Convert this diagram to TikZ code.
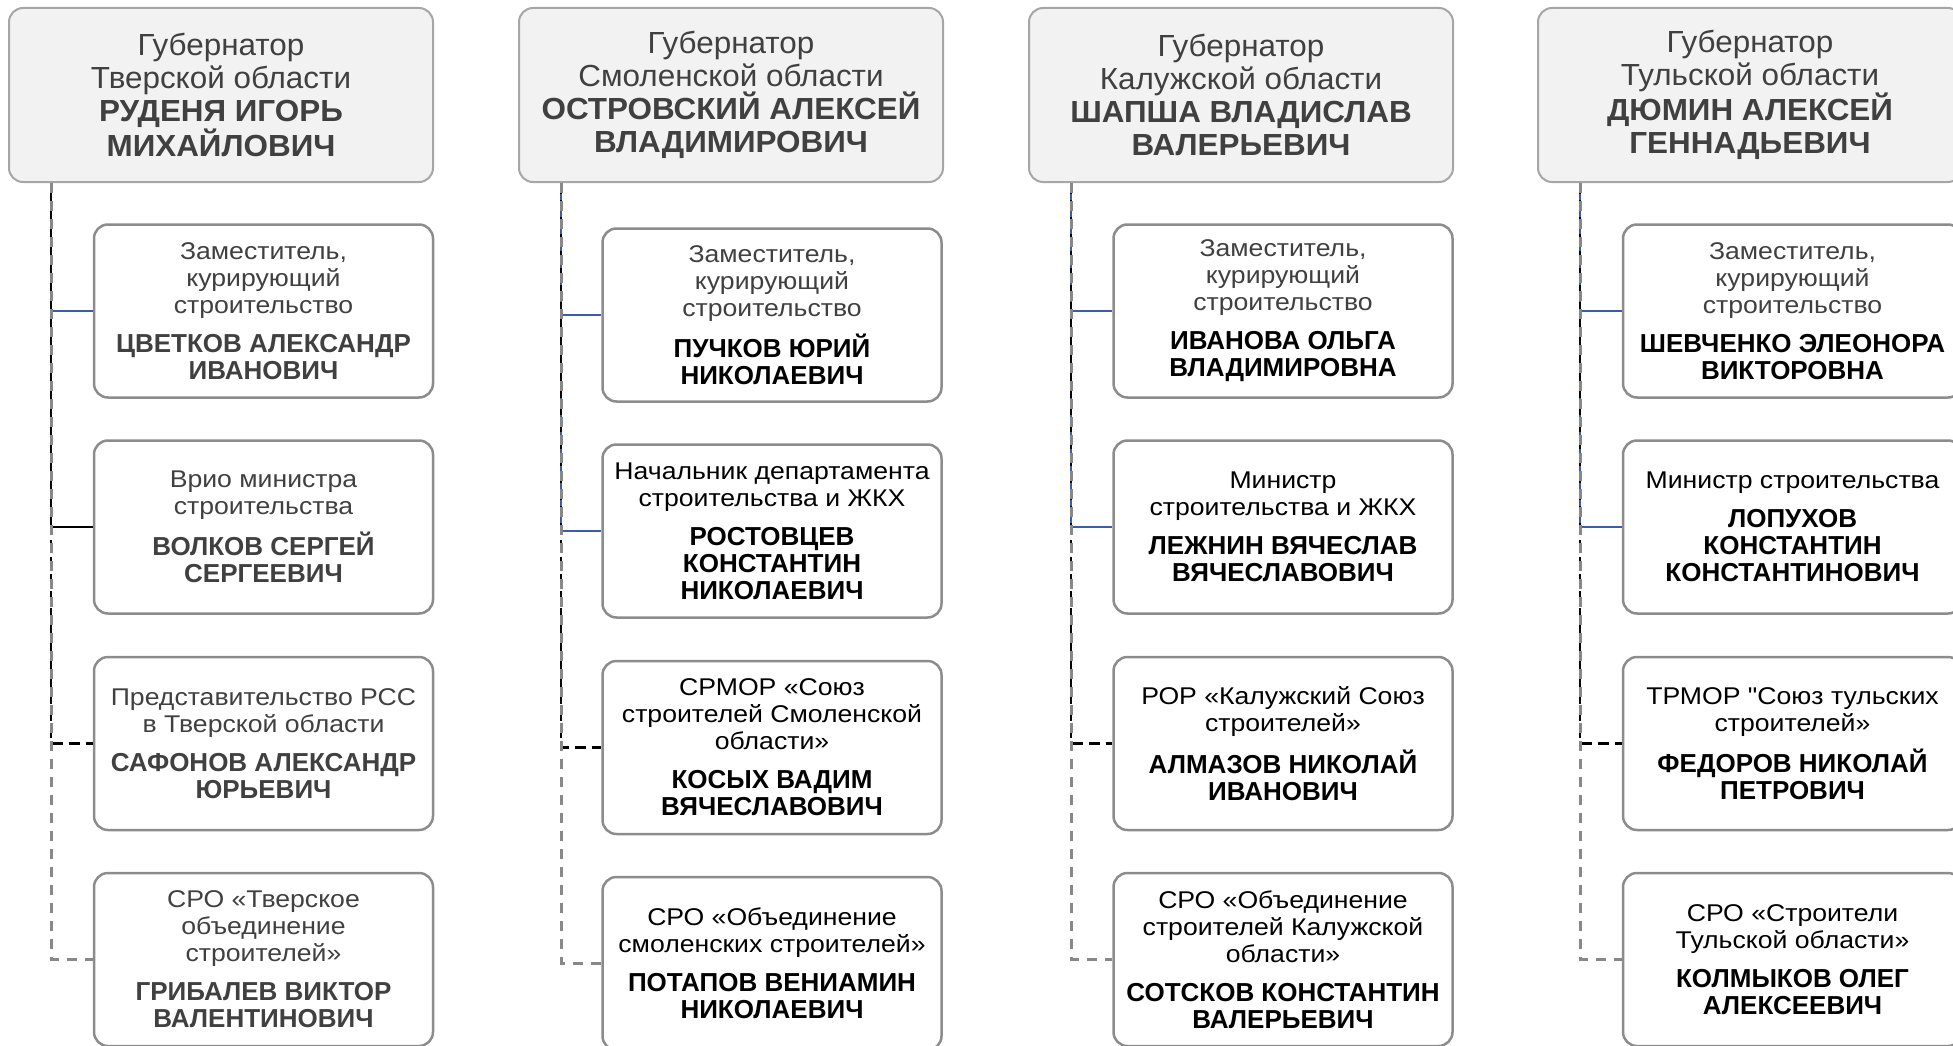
\documentclass[tikz,border=0pt]{standalone}
\usepackage{fontspec}
\setmainfont{Liberation Sans}
\newfontfamily\descfont{Liberation Sans}[FakeStretch=1.1]
\newfontfamily\govfont{Liberation Sans}[FakeStretch=1.03]
\definecolor{dgray}{HTML}{404040}
\definecolor{boxborder}{HTML}{8C8C8C}
\definecolor{govborder}{HTML}{A6A6A6}
\definecolor{govfill}{HTML}{F2F2F2}
\definecolor{lblue}{HTML}{3B5CA6}
\definecolor{lgray}{HTML}{888888}
\newcommand{\nm}[1]{{\rmfamily\fontsize{26}{27}\selectfont\bfseries #1}}
\newcommand{\gnm}[1]{{\bfseries #1}}
\newcommand{\dg}[1]{{\color{dgray}#1}}
\tikzset{
  gov/.style={draw=govborder, fill=govfill, line width=2pt, rounded corners=14pt,
    minimum width=424pt, minimum height=174pt, align=center, text=dgray,
    font=\govfont\fontsize{30.5}{33}\selectfont, inner sep=0pt},
  person/.style={draw=boxborder, fill=white, line width=2.5pt, rounded corners=14pt,
    minimum width=339pt, minimum height=173pt, align=center,
    font=\descfont\fontsize{24.2}{27}\selectfont, inner sep=0pt},
  grayperson/.style={person, text=dgray},
  blackperson/.style={person, text=black},
  lnblue/.style={draw=lblue, line width=2.5pt},
  lnblack/.style={draw=black, line width=2.5pt},
  lndash/.style={draw=black, line width=2.5pt, dash pattern=on 11pt off 6pt},
  lngray/.style={draw=lgray, line width=3pt, dash pattern=on 10pt off 8pt}
}
\begin{document}
\begin{tikzpicture}[x=1pt,y=-1pt]
\clip[use as bounding box] (0,0) rectangle (1953,1046);

% ---------- Column 1: Tver ----------
\node[gov] (g1) at (221,95) {Губернатор\\Тверской области\\\gnm{РУДЕНЯ ИГОРЬ}\\\gnm{МИХАЙЛОВИЧ}};
\coordinate (t1) at ([xshift=43pt]g1.south west);
\node[grayperson] (c11) at (263.5,311) {Заместитель,\\курирующий\\строительство\\[12pt]\nm{ЦВЕТКОВ АЛЕКСАНДР}\\\nm{ИВАНОВИЧ}};
\node[grayperson] (c12) at (263.5,527) {Врио министра\\строительства\\[12pt]\nm{ВОЛКОВ СЕРГЕЙ}\\\nm{СЕРГЕЕВИЧ}};
\node[grayperson] (c13) at (263.5,743.5) {Представительство РСС\\в Тверской области\\[12pt]\nm{САФОНОВ АЛЕКСАНДР}\\\nm{ЮРЬЕВИЧ}};
\node[grayperson] (c14) at (263.5,959.5) {СРО «Тверское\\объединение\\строителей»\\[12pt]\nm{ГРИБАЛЕВ ВИКТОР}\\\nm{ВАЛЕНТИНОВИЧ}};
\draw[lnblue] (t1) |- (c11.west);
\draw[lnblack] (t1) |- (c12.west);
\draw[lndash] (t1) |- (c13.west);
\draw[lngray] (t1) |- (c14.west);

% ---------- Column 2: Smolensk ----------
\node[gov] (g2) at (731,95) {Губернатор\\Смоленской области\\\gnm{ОСТРОВСКИЙ АЛЕКСЕЙ}\\\gnm{ВЛАДИМИРОВИЧ}};
\coordinate (t2) at ([xshift=43pt]g2.south west);
\node[blackperson] (c21) at (772,315) {\dg{Заместитель,}\\\dg{курирующий}\\\dg{строительство}\\[12pt]\nm{ПУЧКОВ ЮРИЙ}\\\nm{НИКОЛАЕВИЧ}};
\node[blackperson] (c22) at (772,531) {Начальник департамента\\строительства и ЖКХ\\[12pt]\nm{РОСТОВЦЕВ}\\\nm{КОНСТАНТИН}\\\nm{НИКОЛАЕВИЧ}};
\node[blackperson] (c23) at (772,747.5) {СРМОР «Союз\\строителей Смоленской\\области»\\[12pt]\nm{КОСЫХ ВАДИМ}\\\nm{ВЯЧЕСЛАВОВИЧ}};
\node[blackperson] (c24) at (772,963.5) {СРО «Объединение\\смоленских строителей»\\[12pt]\nm{ПОТАПОВ ВЕНИАМИН}\\\nm{НИКОЛАЕВИЧ}};
\draw[lnblue] (t2) |- (c21.west);
\draw[lnblue] (t2) |- (c22.west);
\draw[lndash] (t2) |- (c23.west);
\draw[lngray] (t2) |- (c24.west);

% ---------- Column 3: Kaluga ----------
\node[gov] (g3) at (1241,95) {Губернатор\\Калужской области\\\gnm{ШАПША ВЛАДИСЛАВ}\\\gnm{ВАЛЕРЬЕВИЧ}};
\coordinate (t3) at ([xshift=43pt]g3.south west);
\node[blackperson] (c31) at (1283,311) {\dg{Заместитель,}\\\dg{курирующий}\\\dg{строительство}\\[12pt]\nm{ИВАНОВА ОЛЬГА}\\\nm{ВЛАДИМИРОВНА}};
\node[blackperson] (c32) at (1283,527) {Министр\\строительства и ЖКХ\\[12pt]\nm{ЛЕЖНИН ВЯЧЕСЛАВ}\\\nm{ВЯЧЕСЛАВОВИЧ}};
\node[blackperson] (c33) at (1283,743.5) {РОР «Калужский Союз\\строителей»\\[12pt]\nm{АЛМАЗОВ НИКОЛАЙ}\\\nm{ИВАНОВИЧ}};
\node[blackperson] (c34) at (1283,959.5) {СРО «Объединение\\строителей Калужской\\области»\\[12pt]\nm{СОТСКОВ КОНСТАНТИН}\\\nm{ВАЛЕРЬЕВИЧ}};
\draw[lnblue] (t3) |- (c31.west);
\draw[lnblue] (t3) |- (c32.west);
\draw[lndash] (t3) |- (c33.west);
\draw[lngray] (t3) |- (c34.west);

% ---------- Column 4: Tula ----------
\node[gov] (g4) at (1750,95) {Губернатор\\Тульской области\\\gnm{ДЮМИН АЛЕКСЕЙ}\\\gnm{ГЕННАДЬЕВИЧ}};
\coordinate (t4) at ([xshift=43pt]g4.south west);
\node[blackperson] (c41) at (1792.5,311) {\dg{Заместитель,}\\\dg{курирующий}\\\dg{строительство}\\[12pt]\nm{ШЕВЧЕНКО ЭЛЕОНОРА}\\\nm{ВИКТОРОВНА}};
\node[blackperson] (c42) at (1792.5,527) {Министр строительства\\[12pt]\nm{ЛОПУХОВ}\\\nm{КОНСТАНТИН}\\\nm{КОНСТАНТИНОВИЧ}};
\node[blackperson] (c43) at (1792.5,743.5) {ТРМОР "Союз тульских\\строителей»\\[12pt]\nm{ФЕДОРОВ НИКОЛАЙ}\\\nm{ПЕТРОВИЧ}};
\node[blackperson] (c44) at (1792.5,959.5) {СРО «Строители\\Тульской области»\\[12pt]\nm{КОЛМЫКОВ ОЛЕГ}\\\nm{АЛЕКСЕЕВИЧ}};
\draw[lnblue] (t4) |- (c41.west);
\draw[lnblue] (t4) |- (c42.west);
\draw[lndash] (t4) |- (c43.west);
\draw[lngray] (t4) |- (c44.west);
\end{tikzpicture}
\end{document}
